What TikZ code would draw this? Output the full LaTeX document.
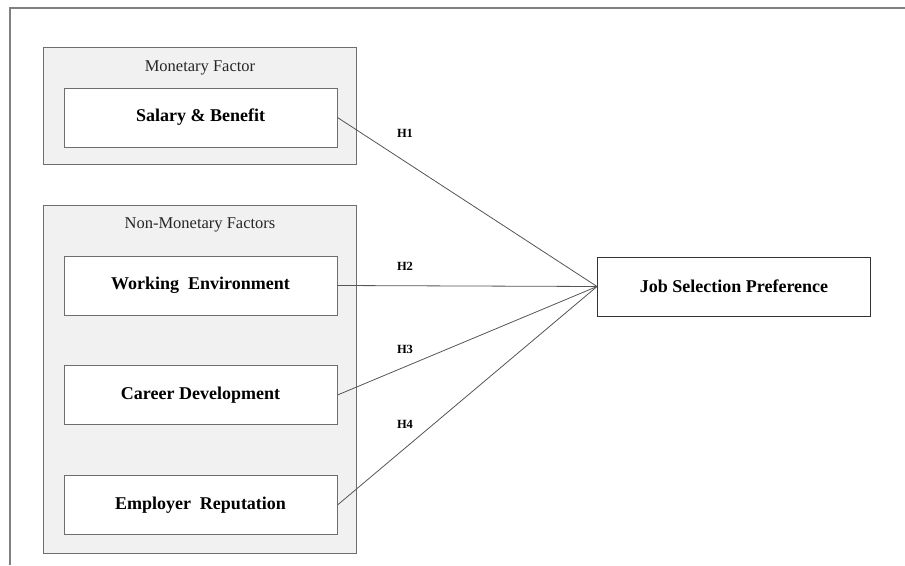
\documentclass[tikz,border=0pt]{standalone}
\usepackage{fontspec}
\setmainfont{Liberation Serif}
\definecolor{grpfill}{HTML}{F1F1F1}
\definecolor{edgegray}{HTML}{6E6E6E}
\definecolor{linegray}{HTML}{555555}
\begin{document}
\begin{tikzpicture}[x=1pt,y=-1pt,
  group/.style={draw=edgegray,fill=grpfill,line width=1pt,inner sep=0pt,minimum width=313pt},
  varbox/.style={draw=edgegray,fill=white,line width=1pt,inner sep=0pt,minimum width=273pt,minimum height=59pt,font=\fontsize{18}{20}\selectfont\bfseries},
  title/.style={inner sep=0pt,font=\fontsize{16.5}{18}\selectfont,text=black!85},
  hyp/.style={inner sep=0pt,font=\fontsize{12.5}{14}\selectfont\bfseries},
  link/.style={draw=linegray,line width=0.8pt},
  frameline/.style={draw=gray,line width=1.2pt}]
\useasboundingbox (0,0) rectangle (905,565);
% frame
\coordinate (fl) at (10,8);
\coordinate (fr) at (905,8);
\coordinate (fb) at (10,565);
\draw[frameline] (fr) -- (fl) -- (fb);
% groups
\node[group,minimum height=117pt] (mon) at (199.5,105.5) {};
\node[title] (montitle) at (200,68) {Monetary Factor};
\node[group,minimum height=348pt] (nonmon) at (199.5,379) {};
\node[title] (nontitle) at (200,225) {Non-Monetary Factors};
% variables
\node[varbox] (sal) at (200.5,117.5) {Salary \& Benefit};
\node[varbox] (work) at (200.5,285.5) {Working\ \ Environment};
\node[varbox] (car) at (200.5,395) {Career Development};
\node[varbox] (emp) at (200.5,505) {Employer\ \ Reputation};
\node[varbox,draw=black!80] (job) at (734,286.5) {Job Selection Preference};
% links
\draw[link] (sal.east) -- (job.west);
\draw[link] (work.east) -- (job.west);
\draw[link] (car.east) -- (job.west);
\draw[link] (emp.east) -- (job.west);
% labels
\node[hyp] (h1) at (405,133) {H1};
\node[hyp] (h2) at (405,266) {H2};
\node[hyp] (h3) at (405,349) {H3};
\node[hyp] (h4) at (405,424) {H4};
\end{tikzpicture}
\end{document}
